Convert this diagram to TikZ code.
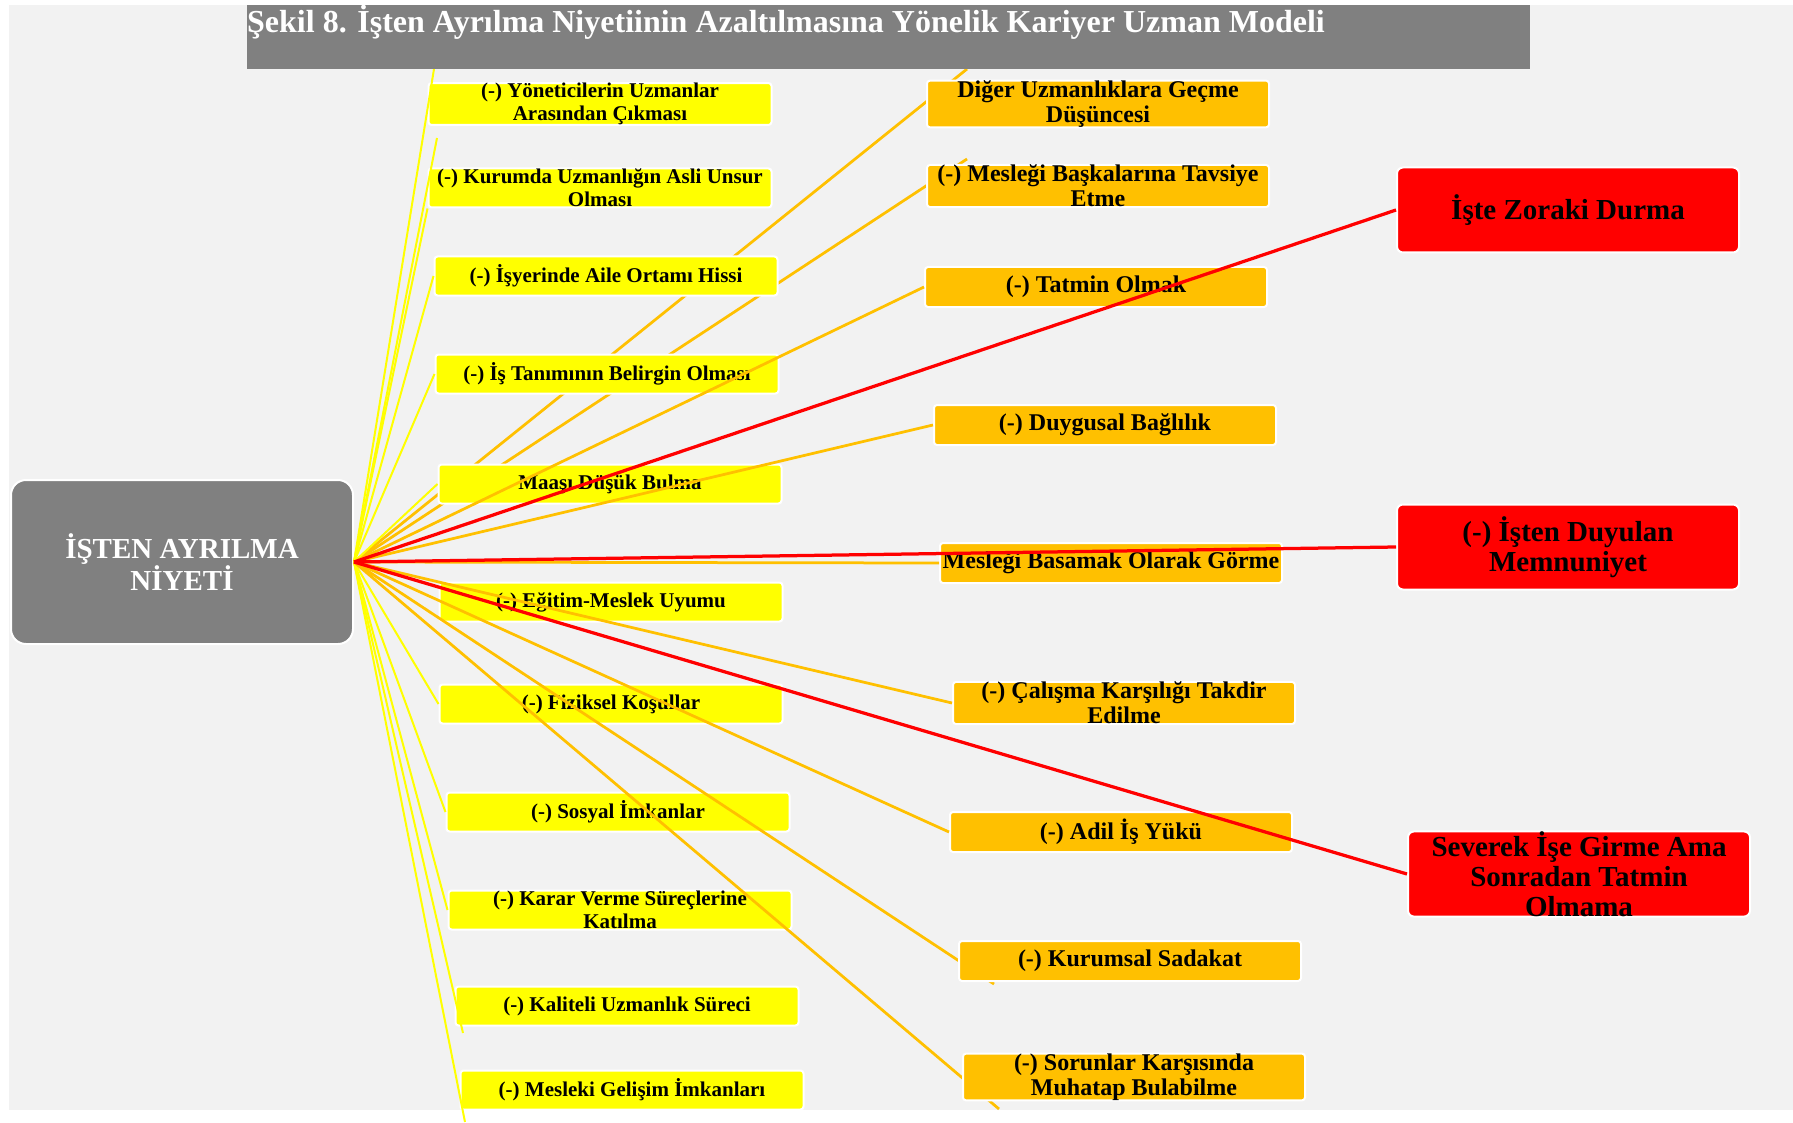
\documentclass[tikz,border=0pt]{standalone}
\usepackage{fontspec}
\setmainfont{Liberation Serif}
\definecolor{bggray}{HTML}{F2F2F2}
\definecolor{boxgray}{HTML}{808080}
\definecolor{ycol}{HTML}{FFFF00}
\definecolor{ocol}{HTML}{FFC000}
\definecolor{rcol}{HTML}{FF0000}

\begin{document}
\begin{tikzpicture}[
	x = 1pt,
	y = 1pt,
	nbox/.style = {
		rectangle,
		draw = white,
		line width = 2pt,
		inner sep = 0,
		align = center
	},
	ybox/.style = {
		nbox,
		fill = ycol,
		rounded corners = 3pt,
		minimum width = 343pt,
		minimum height = 39pt,
		font = \fontsize{21}{23}\selectfont\bfseries
	},
	obox/.style = {
		nbox,
		fill = ocol,
		rounded corners = 3pt,
		minimum width = 342pt,
		minimum height = 40pt,
		font = \fontsize{24}{25}\selectfont\bfseries
	},
	rbox/.style = {
		nbox,
		fill = rcol,
		rounded corners = 6pt,
		minimum width = 342pt,
		minimum height = 85pt,
		font = \fontsize{29}{30}\selectfont\bfseries
	},
	cbox/.style = {
		nbox,
		fill = boxgray,
		text = white,
		rounded corners = 15pt,
		minimum width = 342pt,
		minimum height = 164pt,
		font = \fontsize{29}{29}\selectfont\bfseries
	},
	tbar/.style = {
		rectangle,
		fill = boxgray,
		inner sep = 0,
		minimum width = 1283pt,
		minimum height = 64pt
	},
	ttext/.style = {
		text = white,
		inner sep = 0,
		font = \fontsize{32}{32}\selectfont\bfseries
	},
	yl/.style = {
		draw = ycol,
		line width = 2pt
	},
	ol/.style = {
		draw = ocol,
		line width = 2.75pt
	},
	rl/.style = {
		draw = rcol,
		line width = 3.25pt
	}
]
\coordinate (bga) at (+9, -5);
\coordinate (bgb) at (+1793, -1110);

\useasboundingbox (0, 0) rectangle (1793, -1123);
\fill [white] (0, 0) rectangle (1793, -1123);
\fill [bggray] (bga) rectangle (bgb);

\node [cbox] (niyet) at (+182, -562) {İŞTEN AYRILMA\\NİYETİ};

\coordinate (fa) at (+967, -69);
\coordinate (fb) at (+967, -159);
\draw [ol] (niyet.east) -- (fa);
\draw [ol] (niyet.east) -- (fb);

\node [ybox] (y1) at (+600, -104) {(-) Yöneticilerin Uzmanlar\\Arasından Çıkması};
\node [ybox] (y2) at (+600, -188) {(-) Kurumda Uzmanlığın Asli Unsur\\Olması};
\node [ybox] (y3) at (+606, -276) {(-) İşyerinde Aile Ortamı Hissi};
\node [ybox] (y4) at (+607, -374) {(-) İş Tanımının Belirgin Olması};
\node [ybox] (y5) at (+610, -484) {Maaşı Düşük Bulma};
\node [ybox] (y6) at (+611, -602) {(-) Eğitim-Meslek Uyumu};
\node [ybox] (y7) at (+611, -704) {(-) Fiziksel Koşullar};
\node [ybox] (y8) at (+618, -812) {(-) Sosyal İmkanlar};
\node [ybox] (y9) at (+620, -910) {(-) Karar Verme Süreçlerine\\Katılma};
\node [ybox] (y10) at (+627, -1006) {(-) Kaliteli Uzmanlık Süreci};
\node [ybox] (y11) at (+632, -1090) {(-) Mesleki Gelişim İmkanları};

\coordinate (ya) at (+434, -69);
\coordinate (yb) at (+437, -138);
\coordinate (yc) at (+463, -1033);
\coordinate (yd) at (+465, -1122);

\draw [yl] (niyet.east) -- (ya);
\draw [yl] (niyet.east) -- (yb);
\draw [yl] (niyet.east) -- (y2.south west);
\draw [yl] (niyet.east) -- (y3.west);
\draw [yl] (niyet.east) -- (y4.west);
\draw [yl] (niyet.east) -- (y5.west);
\draw [yl] (niyet.east) -- (y7.west);
\draw [yl] (niyet.east) -- (y8.west);
\draw [yl] (niyet.east) -- (y9.west);
\draw [yl] (niyet.east) -- (yc);
\draw [yl] (niyet.east) -- (yd);

\coordinate (fh) at (+994, -984);
\coordinate (fi) at (+999, -1109);
\draw [ol] (niyet.east) -- (fh);
\draw [ol] (niyet.east) -- (fi);

\node [obox] (o1) at (+1098, -104) {Diğer Uzmanlıklara Geçme\\Düşüncesi};
\node [obox] (o2) at (+1098, -186) {(-) Mesleği Başkalarına Tavsiye\\Etme};
\node [obox] (o3) at (+1096, -287) {(-) Tatmin Olmak};
\node [obox] (o4) at (+1105, -425) {(-) Duygusal Bağlılık};
\node [obox] (o5) at (+1111, -563) {Mesleği Basamak Olarak Görme};
\node [obox] (o6) at (+1124, -703) {(-) Çalışma Karşılığı Takdir\\Edilme};
\node [obox] (o7) at (+1121, -832) {(-) Adil İş Yükü};
\node [obox] (o8) at (+1130, -961) {(-) Kurumsal Sadakat};
\node [obox] (o9) at (+1134, -1077) {(-) Sorunlar Karşısında\\Muhatap Bulabilme};

\draw [ol] (niyet.east) -- (o3.west);
\draw [ol] (niyet.east) -- (o4.west);
\draw [ol] (niyet.east) -- (o5.west);
\draw [ol] (niyet.east) -- (o6.west);
\draw [ol] (niyet.east) -- (o7.west);

\node [rbox] (r1) at (+1568, -210) {İşte Zoraki Durma};
\node [rbox] (r2) at (+1568, -547) {(-) İşten Duyulan\\Memnuniyet};
\node [rbox] (r3) at (+1579, -874) {Severek İşe Girme Ama\\Sonradan Tatmin\\Olmama};

\draw [rl] (niyet.east) -- (r1.west);
\draw [rl] (niyet.east) -- (r2.west);
\draw [rl] (niyet.east) -- (r3.west);

\node [tbar] (baslik) at (+888.5, -37) {};
\node [ttext, anchor = base west] (basliktext) at (+247, -33) {Şekil 8. İşten Ayrılma Niyetiinin Azaltılmasına Yönelik Kariyer Uzman Modeli};
\end{tikzpicture}
\end{document}
